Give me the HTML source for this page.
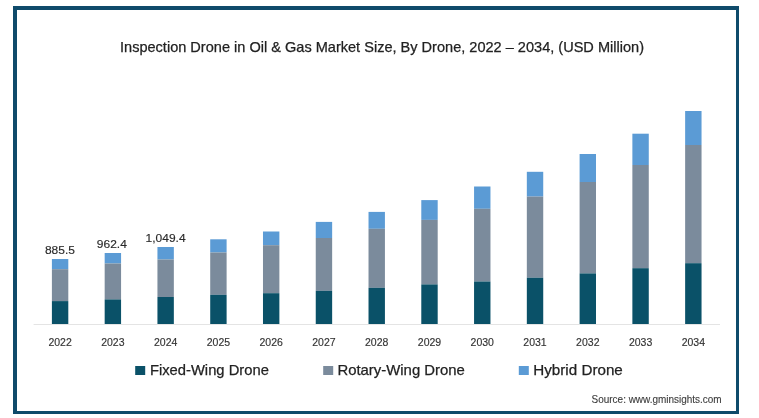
<!DOCTYPE html>
<html><head><meta charset="utf-8">
<style>
html,body{margin:0;padding:0;background:#fff;}
body{width:759px;height:418px;position:relative;overflow:hidden;font-family:"Liberation Sans",sans-serif;}
.frame{position:absolute;left:13px;top:6px;width:726px;height:408px;box-sizing:border-box;border:4px solid #0f4b6b;border-right-width:3px;border-bottom-width:3px;}
svg{position:absolute;left:0;top:0;will-change:transform;}
.title{font-size:14.5px;fill:#222;stroke:#222;stroke-width:0.25px;}
.yr{font-size:10.5px;fill:#333;stroke:#333;stroke-width:0.15px;text-anchor:middle;}
.dl{font-size:11.6px;fill:#2a2a2a;stroke:#2a2a2a;stroke-width:0.15px;text-anchor:middle;}
.lg{font-size:15px;fill:#222;stroke:#222;stroke-width:0.25px;}
.src{font-size:10.7px;fill:#3c3c3c;stroke:#3c3c3c;stroke-width:0.12px;}
</style></head><body>
<div class="frame"></div>
<svg width="759" height="418" viewBox="0 0 759 418">
<text x="120" y="52.1" class="title" textLength="524" lengthAdjust="spacingAndGlyphs">Inspection Drone in Oil &amp; Gas Market Size, By Drone, 2022 – 2034, (USD Million)</text>
<line x1="33.6" y1="324.5" x2="720" y2="324.5" stroke="#e4e4e4" stroke-width="1"/>
<rect x="51.90" y="259" width="16.4" height="10.20" fill="#5b9bd5"/>
<rect x="51.90" y="269.2" width="16.4" height="31.90" fill="#7b8b9c"/>
<rect x="51.90" y="301.1" width="16.4" height="22.90" fill="#0a5168"/>
<text x="60.10" y="345.8" class="yr">2022</text>
<rect x="104.67" y="253" width="16.4" height="10.50" fill="#5b9bd5"/>
<rect x="104.67" y="263.5" width="16.4" height="35.90" fill="#7b8b9c"/>
<rect x="104.67" y="299.4" width="16.4" height="24.60" fill="#0a5168"/>
<text x="112.87" y="345.8" class="yr">2023</text>
<rect x="157.44" y="247" width="16.4" height="12.50" fill="#5b9bd5"/>
<rect x="157.44" y="259.5" width="16.4" height="37.50" fill="#7b8b9c"/>
<rect x="157.44" y="297" width="16.4" height="27.00" fill="#0a5168"/>
<text x="165.64" y="345.8" class="yr">2024</text>
<rect x="210.21" y="239.3" width="16.4" height="13.20" fill="#5b9bd5"/>
<rect x="210.21" y="252.5" width="16.4" height="42.30" fill="#7b8b9c"/>
<rect x="210.21" y="294.8" width="16.4" height="29.20" fill="#0a5168"/>
<text x="218.41" y="345.8" class="yr">2025</text>
<rect x="262.98" y="231.5" width="16.4" height="13.70" fill="#5b9bd5"/>
<rect x="262.98" y="245.2" width="16.4" height="48.00" fill="#7b8b9c"/>
<rect x="262.98" y="293.2" width="16.4" height="30.80" fill="#0a5168"/>
<text x="271.18" y="345.8" class="yr">2026</text>
<rect x="315.75" y="221.9" width="16.4" height="16.10" fill="#5b9bd5"/>
<rect x="315.75" y="238" width="16.4" height="52.80" fill="#7b8b9c"/>
<rect x="315.75" y="290.8" width="16.4" height="33.20" fill="#0a5168"/>
<text x="323.95" y="345.8" class="yr">2027</text>
<rect x="368.52" y="211.9" width="16.4" height="16.90" fill="#5b9bd5"/>
<rect x="368.52" y="228.8" width="16.4" height="59.00" fill="#7b8b9c"/>
<rect x="368.52" y="287.8" width="16.4" height="36.20" fill="#0a5168"/>
<text x="376.72" y="345.8" class="yr">2028</text>
<rect x="421.29" y="200.1" width="16.4" height="19.80" fill="#5b9bd5"/>
<rect x="421.29" y="219.9" width="16.4" height="64.50" fill="#7b8b9c"/>
<rect x="421.29" y="284.4" width="16.4" height="39.60" fill="#0a5168"/>
<text x="429.49" y="345.8" class="yr">2029</text>
<rect x="474.06" y="186.5" width="16.4" height="22.30" fill="#5b9bd5"/>
<rect x="474.06" y="208.8" width="16.4" height="72.70" fill="#7b8b9c"/>
<rect x="474.06" y="281.5" width="16.4" height="42.50" fill="#0a5168"/>
<text x="482.26" y="345.8" class="yr">2030</text>
<rect x="526.83" y="171.8" width="16.4" height="24.80" fill="#5b9bd5"/>
<rect x="526.83" y="196.6" width="16.4" height="81.10" fill="#7b8b9c"/>
<rect x="526.83" y="277.7" width="16.4" height="46.30" fill="#0a5168"/>
<text x="535.03" y="345.8" class="yr">2031</text>
<rect x="579.60" y="154" width="16.4" height="28.00" fill="#5b9bd5"/>
<rect x="579.60" y="182" width="16.4" height="91.40" fill="#7b8b9c"/>
<rect x="579.60" y="273.4" width="16.4" height="50.60" fill="#0a5168"/>
<text x="587.80" y="345.8" class="yr">2032</text>
<rect x="632.37" y="133.7" width="16.4" height="31.30" fill="#5b9bd5"/>
<rect x="632.37" y="165" width="16.4" height="103.20" fill="#7b8b9c"/>
<rect x="632.37" y="268.2" width="16.4" height="55.80" fill="#0a5168"/>
<text x="640.57" y="345.8" class="yr">2033</text>
<rect x="685.14" y="111" width="16.4" height="34.00" fill="#5b9bd5"/>
<rect x="685.14" y="145" width="16.4" height="118.20" fill="#7b8b9c"/>
<rect x="685.14" y="263.2" width="16.4" height="60.80" fill="#0a5168"/>
<text x="693.34" y="345.8" class="yr">2034</text>
<text x="59.90" y="254.3" class="dl" textLength="30" lengthAdjust="spacingAndGlyphs">885.5</text>
<text x="111.80" y="248.1" class="dl" textLength="30" lengthAdjust="spacingAndGlyphs">962.4</text>
<text x="165.60" y="242.3" class="dl" textLength="40" lengthAdjust="spacingAndGlyphs">1,049.4</text>
<rect x="135.2" y="366" width="10" height="9" fill="#0a5168"/>
<text x="149.9" y="374.8" class="lg" textLength="119" lengthAdjust="spacingAndGlyphs">Fixed-Wing Drone</text>
<rect x="323.2" y="366" width="10" height="9" fill="#7b8b9c"/>
<text x="337.4" y="374.8" class="lg" textLength="127.5" lengthAdjust="spacingAndGlyphs">Rotary-Wing Drone</text>
<rect x="518.8" y="366" width="10" height="9" fill="#5b9bd5"/>
<text x="533.3" y="374.8" class="lg" textLength="89.5" lengthAdjust="spacingAndGlyphs">Hybrid Drone</text>
<text x="591.6" y="402.9" class="src" textLength="130" lengthAdjust="spacingAndGlyphs">Source: www.gminsights.com</text>
</svg>
</body></html>
